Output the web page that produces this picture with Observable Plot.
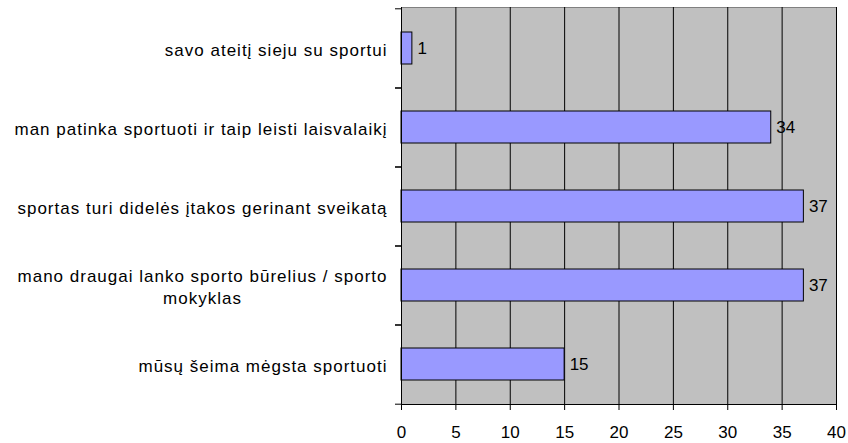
<!DOCTYPE html>
<html><head><meta charset="utf-8">
<script src="https://cdn.jsdelivr.net/npm/d3@7"></script>
<script src="https://cdn.jsdelivr.net/npm/@observablehq/plot@0.6"></script>
<style>body{margin:0;background:#fff}</style>
</head><body><div id="chart"></div>
<script>
const categories = [
  "savo ateitį sieju su sportui",
  "man patinka sportuoti ir taip leisti laisvalaikį",
  "sportas turi didelės įtakos gerinant sveikatą",
  "mano draugai lanko sporto būrelius / sporto\nmokyklas",
  "mūsų šeima mėgsta sportuoti"
];
const values = [1, 34, 37, 37, 15];
const xTicks = [0, 5, 10, 15, 20, 25, 30, 35, 40];

const W = 848, H = 443;
const mL = 401, mR = 12, mT = 7, mB = 39;
const FONT = "Liberation Sans, Arial, sans-serif";
const FS = 17;
const LS = 1; // letter spacing of the category labels
const step = (H - mT - mB) / categories.length;

const data = categories.map((c, i) => ({category: c, value: values[i]}));

// measure label widths to center multi-line labels within a right-aligned block
const ctx = document.createElement("canvas").getContext("2d");
ctx.font = `${FS}px ${FONT}`;
const lineWidth = s => ctx.measureText(s).width + LS * [...s].length;
const blockWidth = c => Math.max(...c.split("\n").map(lineWidth));
const labelGap = 14;

const labelMarks = data.map(d => Plot.text([d], {
  y: "category", text: "category", frameAnchor: "left",
  textAnchor: "middle", dx: -(labelGap + blockWidth(d.category) / 2),
  fill: "black", fontSize: FS, lineHeight: 1.3
}));

const chart = Plot.plot({
  width: W, height: H,
  marginLeft: mL, marginRight: mR, marginTop: mT, marginBottom: mB,
  style: {fontFamily: FONT, fontSize: FS + "px", color: "black", background: "white"},
  x: {domain: [0, 40], ticks: xTicks, label: null},
  y: {domain: categories, paddingInner: 0.6, paddingOuter: 0.3, label: null},
  marks: [
    Plot.frame({fill: "#C0C0C0", stroke: "#808080"}),
    Plot.gridX(xTicks, {stroke: "black", strokeOpacity: 1}),
    Plot.barX(data, {x: "value", y: "category", fill: "#9999FF", stroke: "black", strokeWidth: 1}),
    Plot.text(data, {x: "value", y: "category", text: d => String(d.value), textAnchor: "start", dx: 5, fill: "black", fontSize: FS}),
    Plot.ruleX([0], {stroke: "black"}),
    Plot.frame({anchor: "bottom", stroke: "black"}),
    Plot.axisX({ticks: xTicks, tickSize: 6, tickPadding: 15, stroke: "black", fill: "black", fontSize: FS, label: null}),
    Plot.axisY({tickSize: 6, tickFormat: () => "", dy: -step / 2, stroke: "black", label: null}),
    Plot.axisY({tickSize: 6, tickFormat: () => "", dy: step / 2, stroke: "black", label: null}),
    ...labelMarks
  ]
});
// apply letter spacing to the category label groups (all text groups after the value labels)
const textGroups = chart.querySelectorAll("g[aria-label='text']");
textGroups.forEach((g, i) => { if (i > 0) g.setAttribute("letter-spacing", LS); });
document.getElementById("chart").appendChild(chart);
</script>
</body></html>
